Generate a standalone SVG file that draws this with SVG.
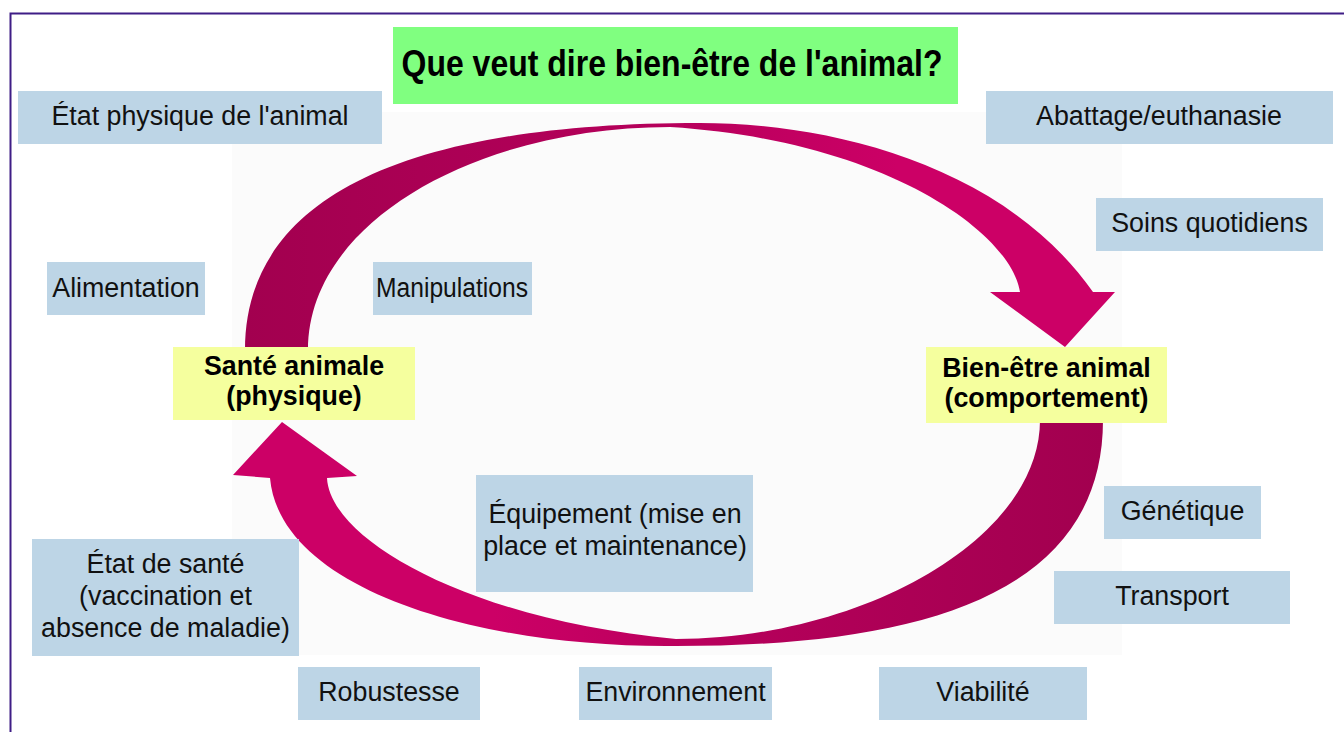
<svg xmlns="http://www.w3.org/2000/svg" width="1344" height="732" viewBox="0 0 1344 732">
<style>
.lbl{fill:#bdd5e6}
.key{fill:#f5ff9e}
.t{font-family:"Liberation Sans",Arial,Helvetica,sans-serif;font-size:26.8px;fill:#111;text-anchor:middle}
.b{font-weight:bold;fill:#000}
</style>
<defs>
<linearGradient id="gTop" gradientUnits="userSpaceOnUse" x1="245" y1="0" x2="1115" y2="0">
<stop offset="0" stop-color="#a2004f"/>
<stop offset="0.45" stop-color="#b4005a"/>
<stop offset="0.75" stop-color="#cc0066"/>
<stop offset="1" stop-color="#cc0066"/>
</linearGradient>
<linearGradient id="gBot" gradientUnits="userSpaceOnUse" x1="233" y1="0" x2="1103" y2="0">
<stop offset="0" stop-color="#cc0066"/>
<stop offset="0.3" stop-color="#cc0066"/>
<stop offset="0.6" stop-color="#b4005a"/>
<stop offset="1" stop-color="#a2004f"/>
</linearGradient>
</defs>
<rect width="1344" height="732" fill="#ffffff"/>
<path d="M10.5,732 V13.5 H1344" fill="none" stroke="#3f1d86" stroke-width="2"/>
<rect x="232" y="112" width="890" height="543" fill="#fbfbfb"/>
<g id="connectors">
<path id="arrow-top" fill="url(#gTop)" d="M245,350 C245,210 380,123 700,123 C820,123 1000,160 1093,292 L1115,292 L1065,347 L990,292 L1020,292 C1010,230 880,140 670,127 C480,127 308,220 308,350 Z"/>
<path id="arrow-bottom" fill="url(#gBot)" d="M1040,420 L1103,420 C1103,600 910,646 676,646 C480,648 280,590 270,478 L233,475 L282,422 L357,476 L327,478 C330,540 470,620 676,639 C860,639 1040,540 1040,420 Z"/>
</g>
<g id="title">
<rect x="393" y="27" width="565" height="77" fill="#80ff80"/>
<text class="t b" x="672" y="76" style="font-size:37px" textLength="541" lengthAdjust="spacingAndGlyphs">Que veut dire bien-être de l'animal?</text>
</g>
<g id="etat-physique">
<rect class="lbl" x="18" y="91" width="364" height="53"/>
<text class="t" x="200" y="125">État physique de l'animal</text>
</g>
<g id="abattage">
<rect class="lbl" x="986" y="91" width="347" height="53"/>
<text class="t" x="1159" y="125">Abattage/euthanasie</text>
</g>
<g id="soins">
<rect class="lbl" x="1096" y="198" width="227" height="53"/>
<text class="t" x="1209.5" y="232">Soins quotidiens</text>
</g>
<g id="alimentation">
<rect class="lbl" x="47" y="262" width="158" height="53"/>
<text class="t" x="126" y="297">Alimentation</text>
</g>
<g id="manipulations">
<rect class="lbl" x="373" y="262" width="159" height="53"/>
<text class="t" x="452" y="297" textLength="152" lengthAdjust="spacingAndGlyphs">Manipulations</text>
</g>
<g id="sante-animale">
<rect class="key" x="173" y="347" width="242" height="73"/>
<text class="t b" x="294" y="375">Santé animale</text>
<text class="t b" x="294" y="405">(physique)</text>
</g>
<g id="bien-etre-animal">
<rect class="key" x="926" y="347" width="241" height="76"/>
<text class="t b" x="1046.5" y="377">Bien-être animal</text>
<text class="t b" x="1046.5" y="407">(comportement)</text>
</g>
<g id="equipement">
<rect class="lbl" x="476" y="475" width="277" height="117"/>
<text class="t" x="615" y="523">Équipement (mise en</text>
<text class="t" x="615" y="555">place et maintenance)</text>
</g>
<g id="genetique">
<rect class="lbl" x="1104" y="486" width="157" height="53"/>
<text class="t" x="1182.5" y="520">Génétique</text>
</g>
<g id="transport">
<rect class="lbl" x="1054" y="571" width="236" height="53"/>
<text class="t" x="1172" y="605">Transport</text>
</g>
<g id="etat-sante">
<rect class="lbl" x="32" y="539" width="267" height="117"/>
<text class="t" x="165.5" y="573">État de santé</text>
<text class="t" x="165.5" y="605">(vaccination et</text>
<text class="t" x="165.5" y="637">absence de maladie)</text>
</g>
<g id="robustesse">
<rect class="lbl" x="298" y="667" width="182" height="53"/>
<text class="t" x="389" y="701">Robustesse</text>
</g>
<g id="environnement">
<rect class="lbl" x="579" y="667" width="193" height="53"/>
<text class="t" x="675.5" y="701">Environnement</text>
</g>
<g id="viabilite">
<rect class="lbl" x="879" y="667" width="208" height="53"/>
<text class="t" x="983" y="701">Viabilité</text>
</g>
</svg>
